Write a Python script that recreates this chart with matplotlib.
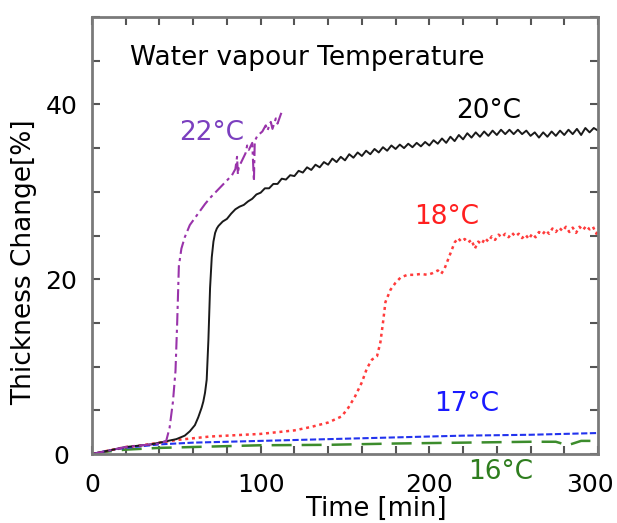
import matplotlib
matplotlib.use("Agg")
import matplotlib.pyplot as plt
from matplotlib.ticker import MultipleLocator

# thickness change [%] vs time [min] for each water vapour temperature
t_22 = [0, 5, 10, 15, 20, 25, 30, 35, 40, 44, 46, 48, 49.5, 50.5, 51.5, 53, 55, 58,
        61, 64, 67, 70, 73, 76, 80, 83, 85, 86, 86.5, 87, 89, 91, 92, 93, 95, 96,
        96.5, 98, 101, 103, 104, 106, 107, 109, 110, 112, 113]
v_22 = [0, 0.2, 0.4, 0.6, 0.8, 0.9, 1.0, 1.1, 1.2, 1.5, 3.0, 6.0, 9.5, 15.0, 21.5,
        23.5, 24.8, 26.2, 27.0, 27.8, 28.6, 29.3, 29.9, 30.5, 31.3, 31.9, 32.6,
        34.0, 32.0, 32.8, 33.6, 34.4, 35.3, 34.8, 35.6, 31.2, 35.8, 36.4, 36.9,
        37.6, 37.0, 38.0, 37.2, 38.4, 37.8, 38.9, 39.3]

t_20 = [0, 5, 10, 15, 20, 25, 30, 35, 40, 45, 50, 55, 58, 61, 63, 65, 66, 67, 68,
        69, 70, 71, 72, 73, 74, 75,
        77.5, 80, 82.5, 85, 87.5, 90, 92.5, 95, 97.5, 100, 102.5, 105, 107.5, 110,
        112.5, 115, 117.5, 120, 122.5, 125, 127.5, 130, 132.5, 135, 137.5, 140,
        142.5, 145, 147.5, 150, 152.5, 155, 157.5, 160, 162.5, 165, 167.5, 170,
        172.5, 175, 177.5, 180, 182.5, 185, 187.5, 190, 192.5, 195, 197.5, 200,
        202.5, 205, 207.5, 210, 212.5, 215, 217.5, 220, 222.5, 225, 227.5, 230,
        232.5, 235, 237.5, 240, 242.5, 245, 247.5, 250, 252.5, 255, 257.5, 260,
        262.5, 265, 267.5, 270, 272.5, 275, 277.5, 280, 282.5, 285, 287.5, 290,
        292.5, 295, 297.5, 300]
v_20 = [0, 0.2, 0.4, 0.6, 0.8, 0.9, 1.0, 1.1, 1.3, 1.5, 1.7, 2.1, 2.6, 3.3, 4.2,
        5.3, 6.0, 7.0, 8.5, 13.0, 19.0, 22.5, 24.3, 25.3, 25.8, 26.1,
        26.6, 26.9, 27.5, 28.0, 28.3, 28.5, 28.9, 29.2, 29.7, 29.9, 30.4, 30.4,
        30.9, 30.9, 31.5, 31.4, 31.9, 31.8, 32.4, 32.2, 32.8, 32.5, 33.1, 32.8,
        33.4, 33.1, 33.8, 33.4, 34.0, 33.6, 34.3, 33.9, 34.5, 34.1, 34.7, 34.3,
        34.9, 34.5, 35.1, 34.7, 35.3, 34.9, 35.4, 35.0, 35.5, 35.1, 35.6, 35.2,
        35.7, 35.3, 35.9, 35.5, 36.1, 35.6, 36.3, 35.8, 36.5, 36.0, 36.7, 36.2,
        36.8, 36.3, 36.9, 36.4, 37.0, 36.5, 37.1, 36.6, 37.1, 36.6, 37.1, 36.6,
        37.0, 36.4, 36.8, 36.2, 36.8, 36.3, 36.9, 36.4, 37.0, 36.5, 37.1, 36.6,
        37.2, 36.5, 37.3, 36.8, 37.3, 37.0]

t_18 = [0, 10, 20, 30, 40, 50, 60, 70, 80, 90, 100, 110, 120, 130, 140, 148, 152,
        156, 160, 163, 166, 169, 171, 172.5, 174, 177, 180, 183, 187, 191, 195, 199,
        202, 205, 207, 209, 211, 213, 215, 217, 219, 221, 223, 225, 227, 229, 231,
        233, 235, 237, 239, 241, 243, 245, 247, 249, 251, 253, 255, 257, 259, 261,
        263, 265, 267, 269, 271, 273, 275, 277, 279, 281, 283, 285, 287, 289, 291,
        293, 295, 297, 299, 300]
v_18 = [0, 0.4, 0.8, 1.0, 1.3, 1.6, 1.8, 2.0, 2.1, 2.2, 2.3, 2.5, 2.7, 3.1, 3.6,
        4.3, 5.3, 6.6, 8.2, 9.8, 10.8, 11.2, 12.8, 15.0, 17.4, 18.8, 19.6, 20.2,
        20.5, 20.5, 20.6, 20.5, 20.7, 21.0, 20.6, 21.2, 22.2, 23.2, 24.2, 24.7,
        24.3, 24.6, 24.2, 24.5, 23.5, 24.3, 24.0, 24.7, 24.3, 24.9, 24.5, 25.1,
        24.8, 25.2, 24.8, 25.3, 24.9, 25.2, 24.7, 25.1, 24.6, 25.2, 24.8, 25.4,
        25.1, 25.6, 25.2, 25.8, 25.4, 25.9, 25.5, 26.0, 25.4, 25.9, 25.3, 26.0,
        25.6, 26.1, 25.7, 26.0, 25.2, 25.6]

t_17 = [0, 10, 20, 30, 40, 60, 80, 100, 120, 140, 160, 180, 200, 220, 240, 260,
        280, 300]
v_17 = [0, 0.4, 0.7, 0.9, 1.1, 1.3, 1.4, 1.5, 1.6, 1.7, 1.8, 1.9, 2.0, 2.1, 2.15,
        2.2, 2.3, 2.4]

t_16 = [0, 10, 20, 40, 60, 80, 100, 140, 180, 220, 260, 275, 282, 290, 300]
v_16 = [0, 0.3, 0.5, 0.7, 0.8, 0.9, 1.0, 1.05, 1.2, 1.3, 1.4, 1.4, 1.0, 1.5, 1.5]

x_ticks = [0, 100, 200, 300]
x_labels = ["0", "100", "200", "300"]

fig = plt.figure(figsize=(6.17, 5.23), dpi=100)
ax = fig.add_axes([92/617, 1 - 454/523, 506/617, 437/523])

ax.plot(t_16, v_16, color="#3c8c2c", lw=1.8, ls=(0, (8, 4)))
ax.plot(t_17, v_17, color="#2233ee", lw=1.5, ls=(0, (3, 1.2)))
ax.plot(t_18, v_18, color="#ff3b3b", lw=1.8, ls=(0, (1.2, 1.5)))
ax.plot(t_20, v_20, color="#1a1a1a", lw=1.4)
ax.plot(t_22, v_22, color="#9933aa", lw=1.5, ls=(0, (6, 2, 1.5, 2)))

ax.set_xlim(0, 300)
ax.set_ylim(0, 50)
# last x label is placed by hand so it stays inside the figure
ax.set_xticks(x_ticks, x_labels[:-1] + [""])
ax.xaxis.set_minor_locator(MultipleLocator(20))
ax.yaxis.set_major_locator(MultipleLocator(20))
ax.yaxis.set_minor_locator(MultipleLocator(5))
ax.tick_params(which="both", direction="in", length=6, width=1.5,
               color="#555555", top=True, right=True, labelsize=18)
ax.tick_params(axis="x", pad=14)
ax.tick_params(axis="y", pad=22)
for lab in ax.get_yticklabels():
    lab.set_horizontalalignment("center")
for sp in ax.spines.values():
    sp.set_color("#7a7a7a")
    sp.set_linewidth(2)

fig.text(614/617, 1 - (454 + 14*100/72)/523, x_labels[-1], fontsize=18,
         ha="right", va="top")
fig.text(130/617, 1 - 58/523, "Water vapour Temperature", fontsize=19,
         ha="left", va="center")
fig.text(376/617, 1 - 516/523, "Time [min]", fontsize=18.5, ha="center",
         va="baseline")
fig.text(24/617, 1 - 262/523, "Thickness Change[%]", fontsize=19,
         rotation=90, ha="center", va="center")

ax.text(71, 36.7, "22°C", color="#7b3fbf", fontsize=19, ha="center", va="center")
ax.text(235, 39.2, "20°C", color="black", fontsize=19, ha="center", va="center")
ax.text(210, 27.1, "18°C", color="#ff2020", fontsize=19, ha="center", va="center")
ax.text(222, 5.7, "17°C", color="#1a1aff", fontsize=19, ha="center", va="center")
ax.text(242, -2.1, "16°C", color="#2e7d1e", fontsize=19, ha="center",
        va="center", clip_on=False)

fig.savefig("out.png", dpi=100)
